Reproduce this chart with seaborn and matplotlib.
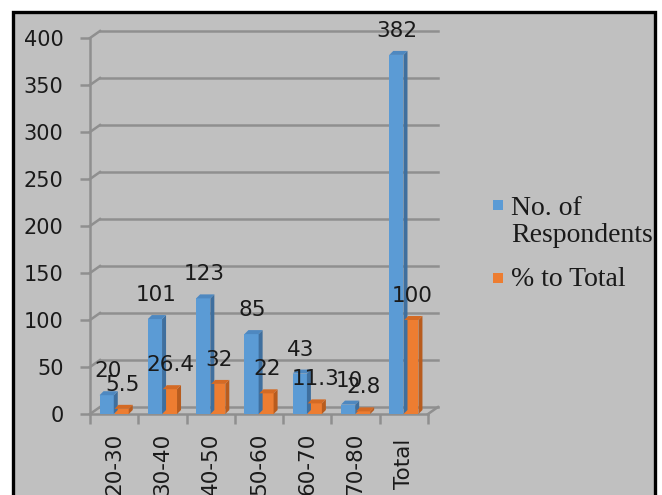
import numpy as np
import pandas as pd
import seaborn as sns
import matplotlib
matplotlib.use("Agg")
import matplotlib.pyplot as plt
from matplotlib.patches import Polygon, Rectangle
from matplotlib.lines import Line2D

# ---------------- data ----------------
categories = ["20-30", "30-40", "40-50", "50-60", "60-70", "70-80", "Total"]
respondents = [20, 101, 123, 85, 43, 10, 382]
percent_total = [5.5, 26.4, 32, 22, 11.3, 2.8, 100]
series_names = ["No. of Respondents", "% to Total"]
legend_labels = ["No. of\nRespondents", "% to Total"]
label_text_resp = ["20", "101", "123", "85", "43", "10", "382"]
label_text_pct = ["5.5", "26.4", "32", "22", "11.3", "2.8", "100"]
yticks = [0, 50, 100, 150, 200, 250, 300, 350, 400]

df = pd.DataFrame({
    "Age": categories * 2,
    "Value": respondents + percent_total,
    "Series": [series_names[0]] * len(categories) + [series_names[1]] * len(categories),
})

BLUE = "#5b9bd5"
ORANGE = "#ed7d31"
SIDE = {BLUE: "#3f6f9e", ORANGE: "#b85c1e"}
TOP = {BLUE: "#4e88c0", ORANGE: "#d46a24"}
GRID = "#8f8f8f"
BG = "#c0c0c0"
TXT = "#1a1a1a"

W, H = 662, 495
fig = plt.figure(figsize=(W / 100, H / 100), dpi=100)
fig.patch.set_facecolor("white")

# grey chart area with black border
fig.add_artist(Rectangle((13 / W, -0.05), (655 - 13) / W, 1 - 11.5 / H + 0.05,
                         transform=fig.transFigure, facecolor=BG,
                         edgecolor="black", linewidth=2.4, zorder=-5))

ax_left, ax_right, ax_bottom, ax_top = 90, 428, 414, 38
ax = fig.add_axes([ax_left / W, 1 - ax_bottom / H,
                   (ax_right - ax_left) / W, (ax_bottom - ax_top) / H])
ax.set_facecolor("none")

sns.barplot(data=df, x="Age", y="Value", hue="Series", palette=[BLUE, ORANGE],
            width=0.62, gap=0.05, saturation=1, legend=False, ax=ax, zorder=3)

ax.set_xlim(-0.5, len(categories) - 0.5)
ax.set_ylim(0, 400)

# pixel -> data conversions for the 3-D depth
px_x = (ax_right - ax_left) / len(categories)
px_y = (ax_bottom - ax_top) / 400.0
DEPTH_X, DEPTH_Y = 10 / px_x, 7 / px_y          # wall/floor depth
BX, BY = 4 / px_x, 4 / px_y                      # bar depth

# back wall gridlines + diagonals
for t in yticks:
    ax.add_line(Line2D([-0.5 + DEPTH_X, len(categories) - 0.5 + DEPTH_X],
                       [t + DEPTH_Y, t + DEPTH_Y], color=GRID, lw=1.8,
                       zorder=1, clip_on=False))
    ax.add_line(Line2D([-0.5, -0.5 + DEPTH_X], [t, t + DEPTH_Y], color=GRID,
                       lw=1.8, zorder=1, clip_on=False))
# floor right edge
ax.add_line(Line2D([len(categories) - 0.5, len(categories) - 0.5 + DEPTH_X],
                   [0, DEPTH_Y], color=GRID, lw=1.8, zorder=1, clip_on=False))

# 3-D faces on bars
for cont, col in zip(ax.containers, [BLUE, ORANGE]):
    for p in cont:
        x0, w, h = p.get_x(), p.get_width(), p.get_height()
        side = Polygon([(x0 + w, 0), (x0 + w, h), (x0 + w + BX, h + BY), (x0 + w + BX, BY)],
                       closed=True, facecolor=SIDE[col], edgecolor="none",
                       zorder=p.get_zorder(), clip_on=False)
        top = Polygon([(x0, h), (x0 + w, h), (x0 + w + BX, h + BY), (x0 + BX, h + BY)],
                      closed=True, facecolor=TOP[col], edgecolor="none",
                      zorder=p.get_zorder(), clip_on=False)
        ax.add_patch(side)
        ax.add_patch(top)
        p.set_edgecolor("none")

# data labels
for cont, texts in zip(ax.containers, [label_text_resp, label_text_pct]):
    for p, s in zip(cont, texts):
        ax.annotate(s, (p.get_x() + p.get_width() / 2, p.get_height()),
                    xytext=(1, 24), textcoords="offset pixels", ha="center",
                    va="center", fontsize=15.5, color=TXT, zorder=6,
                    annotation_clip=False)

# axes styling
for s in ["top", "right"]:
    ax.spines[s].set_visible(False)
for s in ["left", "bottom"]:
    ax.spines[s].set_color(GRID)
    ax.spines[s].set_linewidth(1.8)
    ax.spines[s].set_zorder(1)

ax.set_yticks(yticks)
ax.set_yticklabels([str(t) for t in yticks])
ax.tick_params(axis="y", length=7, width=1.8, color=GRID, pad=12,
               labelsize=15, labelcolor=TXT)
ax.set_xticks(range(len(categories)))
ax.set_xticklabels(categories, rotation=90, va="center", ha="center")
ax.set_xticks(np.arange(-0.5, len(categories)), minor=True)
ax.tick_params(axis="x", which="major", length=0, pad=36, labelsize=15.5,
               labelcolor=TXT)
ax.tick_params(axis="x", which="minor", length=7, width=1.8, color=GRID)
ax.set_xlabel("")
ax.set_ylabel("")
ax.grid(False)

# legend
for col, yc in zip([BLUE, ORANGE], [205, 278]):
    fig.add_artist(Rectangle((493 / W, 1 - (yc + 5) / H), 10 / W, 10 / H,
                             transform=fig.transFigure, facecolor=col,
                             edgecolor="none", zorder=5))
fig.text(511 / W, 1 - 222 / H, legend_labels[0], family="Liberation Serif",
         fontsize=20, va="center", ha="left", color=TXT, linespacing=1.1)
fig.text(511 / W, 1 - 279 / H, legend_labels[1], family="Liberation Serif",
         fontsize=20, va="center", ha="left", color=TXT)

fig.savefig("out.png", dpi=100)
